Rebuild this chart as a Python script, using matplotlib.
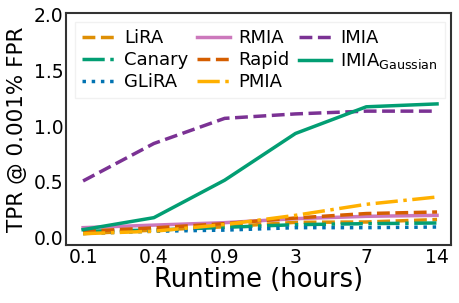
import matplotlib
matplotlib.use("Agg")
import matplotlib.pyplot as plt
import numpy as np

plt.rcParams['mathtext.default'] = 'regular'

runtime_labels = ["0.1", "0.4", "0.9", "3", "7", "14"]

lira = [0.033, 0.065, 0.095, 0.135, 0.138, 0.16]
canary = [0.055, 0.065, 0.09, 0.114, 0.123, 0.129]
glira = [0.035, 0.055, 0.065, 0.087, 0.087, 0.093]
rmia = [0.087, 0.11, 0.132, 0.168, 0.189, 0.198]
rapid = [0.055, 0.085, 0.123, 0.174, 0.214, 0.228]
pmia = [0.033, 0.055, 0.115, 0.198, 0.297, 0.363]
imia = [0.507, 0.844, 1.07, 1.11, 1.135, 1.135]
imia_gauss = [0.069, 0.177, 0.514, 0.934, 1.174, 1.20]

x = np.arange(len(runtime_labels))

fig = plt.figure(figsize=(4.59, 3.03), dpi=100)
ax = fig.add_axes([0.144, 0.191, 0.839, 0.767])

lw = 2.5
ax.plot(x, lira, color="#de8f05", linestyle="--", linewidth=lw, label="LiRA")
ax.plot(x, canary, color="#029e73", linestyle="-.", linewidth=lw, label="Canary")
ax.plot(x, glira, color="#0173b2", linestyle=":", linewidth=lw, label="GLiRA")
ax.plot(x, rmia, color="#cc78bc", linestyle="-", linewidth=lw, label="RMIA")
ax.plot(x, rapid, color="#d55e00", linestyle="--", linewidth=lw, label="Rapid")
ax.plot(x, pmia, color="#ffb000", linestyle="-.", linewidth=lw, label="PMIA")
ax.plot(x, imia, color="#7b3294", linestyle="--", linewidth=lw, label="IMIA")
ax.plot(x, imia_gauss, color="#029e73", linestyle="-", linewidth=lw,
        label=r"IMIA$_{Gaussian}$")

ax.set_xticks(x)
ax.set_xticklabels(runtime_labels)
ax.set_xlim(-0.24, 5.2)
ax.set_ylim(-0.07, 2.02)
ax.set_yticks([0.0, 0.5, 1.0, 1.5, 2.0])
ax.tick_params(length=0, labelsize=13.5, pad=2)
ax.set_xlabel("Runtime (hours)", fontsize=18.5, labelpad=0)
ax.set_ylabel("TPR @ 0.001% FPR", fontsize=15.5, labelpad=5)
for s in ax.spines.values():
    s.set_color("#333333")
    s.set_linewidth(1.5)

ax.legend(loc="upper left", ncol=3, fontsize=13, frameon=True, fancybox=False,
          edgecolor="#eeeeee", handlelength=1.8, handletextpad=0.5,
          columnspacing=0.5, labelspacing=0.22, borderpad=0.4)

fig.savefig("out.png", dpi=100)
